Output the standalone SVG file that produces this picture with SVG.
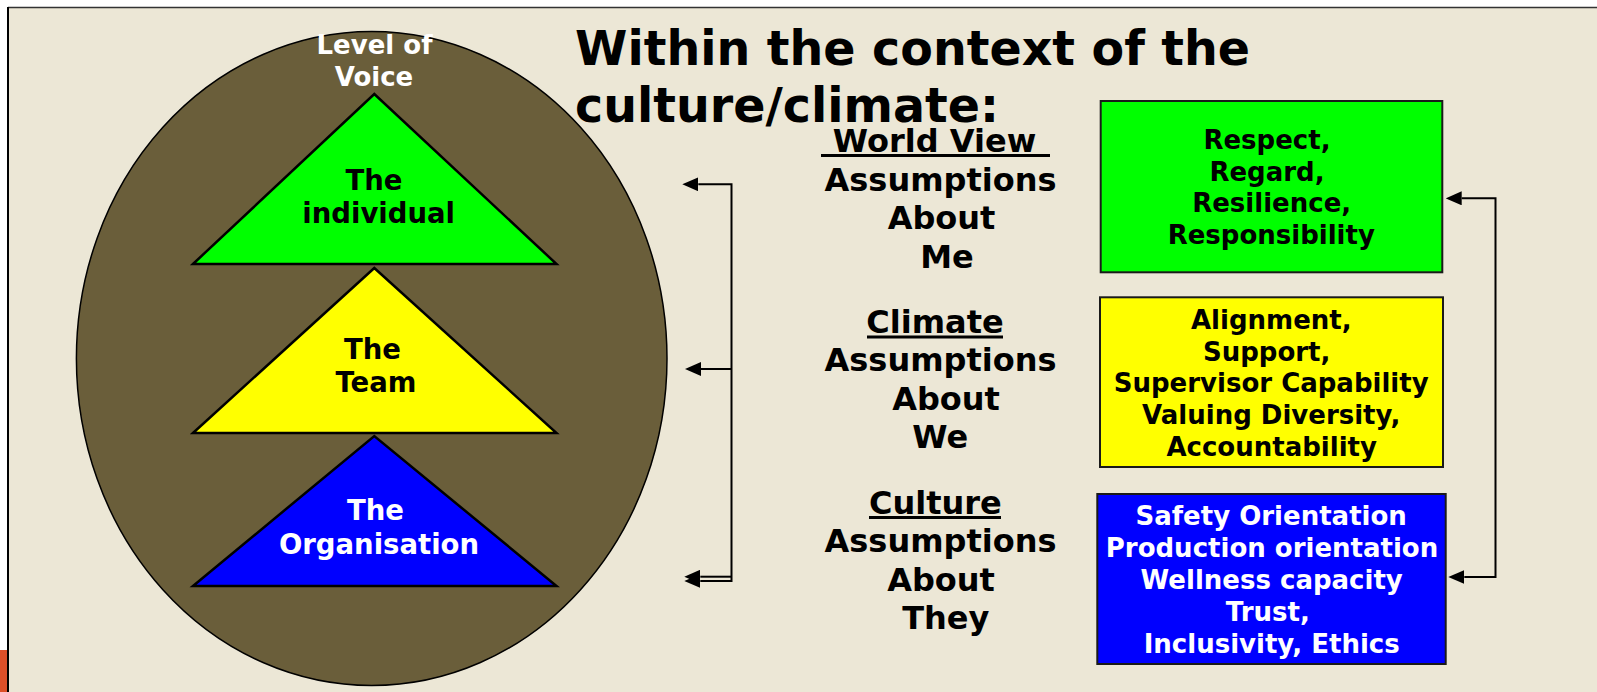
<svg xmlns="http://www.w3.org/2000/svg" width="1597" height="692" viewBox="0 0 1597 692">
  <style>
    text { font-family: "DejaVu Sans", Verdana, sans-serif; font-weight: bold; }
    .title { font-size: 47.5px; fill: #000; }
    .lv { font-size: 26px; fill: #fff; text-anchor: middle; }
    .tri { font-size: 27.5px; text-anchor: middle; }
    .mid { font-size: 32px; fill: #000; text-anchor: middle; }
    .box { font-size: 26px; text-anchor: middle; }
    .dark { fill: #000; }
    .light { fill: #fff; }
    .shape { stroke: #000; stroke-width: 2.5; stroke-linejoin: miter; }
    .rect { stroke: #1a1a1a; stroke-width: 2; }
    .ul { stroke: #000; stroke-width: 3; }
    .conn { fill: none; stroke: #000; stroke-width: 2; }
  </style>
  <defs>
    <marker id="arrow" viewBox="0 0 16 14" refX="0" refY="7" markerWidth="16" markerHeight="14" markerUnits="userSpaceOnUse" orient="auto-start-reverse">
      <path d="M0,0 L16,7 L0,14 z" fill="#000"/>
    </marker>
  </defs>

  <!-- slide background and frame -->
  <rect x="0" y="0" width="1597" height="692" fill="#ffffff"/>
  <rect x="8" y="7" width="1589" height="685" fill="#ECE7D6"/>
  <line x1="8" y1="7.5" x2="1597" y2="7.5" stroke="#333" stroke-width="1.5"/>
  <line x1="8" y1="7" x2="8" y2="692" stroke="#000" stroke-width="2"/>
  <rect x="0" y="650" width="7" height="42" fill="#DC4F28"/>

  <!-- level of voice oval with stacked triangles -->
  <g id="voice-oval">
    <ellipse cx="371.7" cy="358.5" rx="295.3" ry="327" fill="#6A5E3A" stroke="#000" stroke-width="1.5"/>
    <text class="lv" x="374.5" y="54">Level of</text>
    <text class="lv" x="374" y="86">Voice</text>
  </g>

  <g id="tri-individual">
    <polygon class="shape" points="193,264 374.3,94 556.5,264" fill="#00FF00"/>
    <text class="tri dark" x="374" y="190">The</text>
    <text class="tri dark" x="378.7" y="222.7">individual</text>
  </g>

  <g id="tri-team">
    <polygon class="shape" points="193,433 374.3,268 556.5,433" fill="#FFFF00"/>
    <text class="tri dark" x="372.5" y="358.5">The</text>
    <text class="tri dark" x="376" y="392">Team</text>
  </g>

  <g id="tri-organisation">
    <polygon class="shape" points="193,586 374.3,436 556.5,586" fill="#0000FF"/>
    <text class="tri light" x="375.5" y="520">The</text>
    <text class="tri light" x="379" y="554">Organisation</text>
  </g>

  <!-- heading -->
  <g id="heading">
    <text class="title" x="575" y="65">Within the context of the</text>
    <text class="title" x="575" y="122">culture/climate:</text>
  </g>

  <!-- middle column of assumptions -->
  <g id="world-view">
    <text class="mid" x="934.5" y="152">World View</text>
    <line class="ul" x1="821" y1="155.5" x2="1050" y2="155.5"/>
    <text class="mid" x="940.5" y="190.5">Assumptions</text>
    <text class="mid" x="941.5" y="229">About</text>
    <text class="mid" x="947" y="267.5">Me</text>
  </g>

  <g id="climate">
    <text class="mid" x="935" y="332.5">Climate</text>
    <line class="ul" x1="867" y1="337" x2="1003" y2="337"/>
    <text class="mid" x="940.5" y="371">Assumptions</text>
    <text class="mid" x="946" y="409.5">About</text>
    <text class="mid" x="940.3" y="448">We</text>
  </g>

  <g id="culture">
    <text class="mid" x="935.3" y="513.5">Culture</text>
    <line class="ul" x1="869" y1="517.5" x2="1001" y2="517.5"/>
    <text class="mid" x="940.5" y="552">Assumptions</text>
    <text class="mid" x="941" y="590.5">About</text>
    <text class="mid" x="945.8" y="629">They</text>
  </g>

  <!-- value boxes -->
  <g id="box-me">
    <rect class="rect" x="1100.7" y="101" width="341.6" height="171.3" fill="#00FF00"/>
    <text class="box dark" x="1267" y="149">Respect,</text>
    <text class="box dark" x="1267" y="180.7">Regard,</text>
    <text class="box dark" x="1271.7" y="212.4">Resilience,</text>
    <text class="box dark" x="1271.3" y="244.1">Responsibility</text>
  </g>

  <g id="box-we">
    <rect class="rect" x="1100" y="297.3" width="343" height="169.7" fill="#FFFF00"/>
    <text class="box dark" x="1271.3" y="329">Alignment,</text>
    <text class="box dark" x="1266.7" y="360.7">Support,</text>
    <text class="box dark" x="1271.2" y="392.4">Supervisor Capability</text>
    <text class="box dark" x="1271.2" y="424.1">Valuing Diversity,</text>
    <text class="box dark" x="1271.7" y="455.8">Accountability</text>
  </g>

  <g id="box-they">
    <rect class="rect" x="1097.3" y="494" width="348.4" height="170" fill="#0000FF"/>
    <text class="box light" x="1271.2" y="525">Safety Orientation</text>
    <text class="box light" x="1272" y="557">Production orientation</text>
    <text class="box light" x="1271.7" y="589">Wellness capacity</text>
    <text class="box light" x="1267.8" y="620.7">Trust,</text>
    <text class="box light" x="1271.7" y="652.7">Inclusivity, Ethics</text>
  </g>

  <!-- connectors -->
  <g id="connectors">
    <path class="conn" d="M698.3,184.3 H731.5 V581 H700.3" marker-start="url(#arrow)" marker-end="url(#arrow)"/>
    <path class="conn" d="M731.5,369 H701" marker-end="url(#arrow)"/>
    <path class="conn" d="M731.5,576.7 H700.3" marker-end="url(#arrow)"/>
    <path class="conn" d="M1461.7,198.3 H1495.5 V577 H1464.3" marker-start="url(#arrow)" marker-end="url(#arrow)"/>
  </g>
</svg>
